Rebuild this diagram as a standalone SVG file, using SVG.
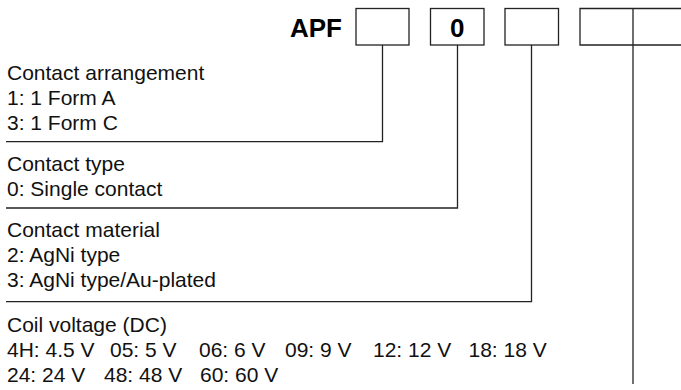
<svg xmlns="http://www.w3.org/2000/svg" width="681" height="390" viewBox="0 0 681 390">
  <style>
    .t { font-family: "Liberation Sans", Arial, Helvetica, sans-serif; font-size: 21px; fill: #111; }
    .b { font-family: "Liberation Sans", Arial, Helvetica, sans-serif; font-weight: bold; font-size: 26px; fill: #000; }
    .box { fill: #fff; stroke: #222; stroke-width: 1.3; }
    .ln { fill: none; stroke: #222; stroke-width: 1.3; }
  </style>
  <rect width="681" height="390" fill="#fff"/>

  <g id="model-code">
    <text class="b" x="290" y="36.5">APF</text>
    <rect id="box1" class="box" x="356" y="8.5" width="53" height="36.5"/>
    <rect id="box2" class="box" x="430.5" y="8.5" width="53.5" height="36.5"/>
    <text class="b" x="457.3" y="36.5" text-anchor="middle">0</text>
    <rect id="box3" class="box" x="505" y="8.5" width="53.5" height="36.5"/>
    <path id="box4" class="ln" d="M682,8.5 H580 V45 H682 M633,8.5 V45"/>
  </g>

  <g id="contact-arrangement">
    <text class="t" x="7" y="79.5">Contact arrangement</text>
    <text class="t" x="7" y="105">1: 1 Form A</text>
    <text class="t" x="7" y="130">3: 1 Form C</text>
  </g>

  <g id="contact-type">
    <text class="t" x="7" y="171">Contact type</text>
    <text class="t" x="7" y="196">0: Single contact</text>
  </g>

  <g id="contact-material">
    <text class="t" x="7" y="237">Contact material</text>
    <text class="t" x="7" y="262">2: AgNi type</text>
    <text class="t" x="7" y="287">3: AgNi type/Au-plated</text>
  </g>

  <g id="coil-voltage">
    <text class="t" x="7" y="332">Coil voltage (DC)</text>
    <text class="t" y="357"><tspan x="7">4H: 4.5 V</tspan><tspan x="110">05: 5 V</tspan><tspan x="199">06: 6 V</tspan><tspan x="285">09: 9 V</tspan><tspan x="373">12: 12 V</tspan><tspan x="468.5">18: 18 V</tspan></text>
    <text class="t" y="382"><tspan x="7">24: 24 V</tspan><tspan x="104">48: 48 V</tspan><tspan x="200">60: 60 V</tspan></text>
  </g>

  <g id="connectors">
    <path class="ln" d="M382.5,45 V141.7 H6"/>
    <path class="ln" d="M457.5,45 V208 H6"/>
    <path class="ln" d="M531.5,45 V301.7 H6"/>
    <path class="ln" d="M633,45 V384"/>
  </g>
</svg>
